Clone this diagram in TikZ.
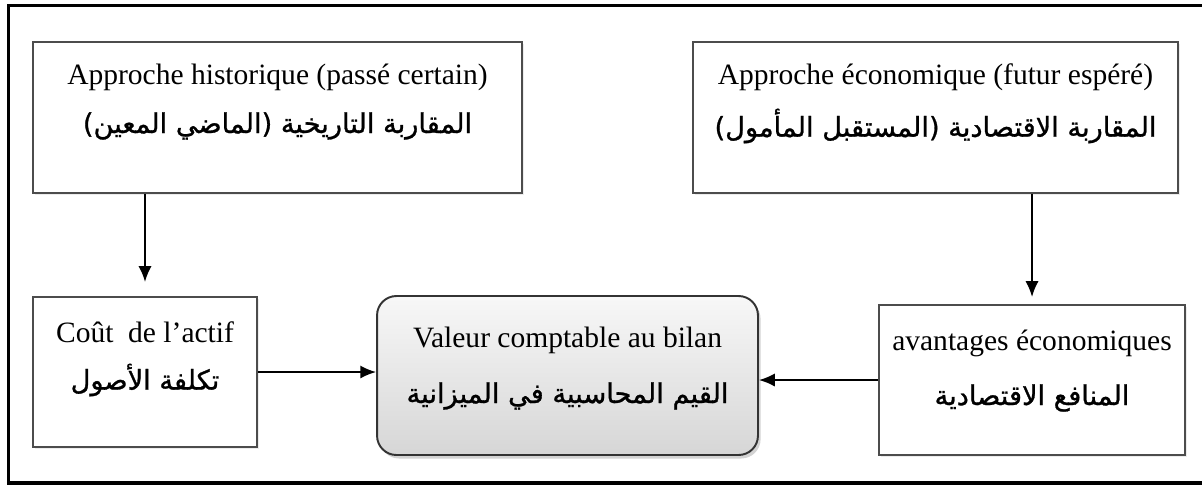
\documentclass[tikz,border=0pt]{standalone}
\usepackage{fontspec}
\setmainfont{Liberation Serif}
\newfontfamily\arabicfont[Script=Arabic,FakeBold=1]{DejaVu Sans}
\TeXXeTstate=1
\usetikzlibrary{arrows.meta,shadows}

\begin{document}
\begin{tikzpicture}[x=0.02cm,y=-0.02cm]

    % let's define some key values (in pixels of the figure)
    \def\xhist{277.5}
    \def\xecon{935.5}
    \def\xcout{145}
    \def\xvaleur{567.5}
    \def\xavant{1032}
    \def\ytop{117.5}
    \def\ytopfr{77.5}
    \def\ytopar{126}

    % Styles
    \tikzstyle{frame}=[draw=black, line width=1.8pt]
    \tikzstyle{box}=[draw=black!70, line width=1.1pt, fill=white,
        drop shadow={opacity=0.15, shadow xshift=1pt, shadow yshift=-1pt}]
    \tikzstyle{valbox}=[draw=black!80, line width=1.1pt, rounded corners=11pt,
        top color=gray!6, bottom color=gray!32,
        drop shadow={opacity=0.35, shadow xshift=1.5pt, shadow yshift=-2pt}]
    \tikzstyle{frtext}=[font=\fontsize{16.8}{20}\selectfont, inner sep=0pt]
    \tikzstyle{artext}=[font=\arabicfont\fontsize{15.5}{18}\selectfont, inner sep=0pt]
    \tikzstyle{arrow}=[-{Latex[length=9pt,width=7.5pt]}, line width=1.1pt]

    \useasboundingbox (0,0) rectangle (1202,485);

    % outer frame
    \draw[frame] (8.5,5.5) rectangle (1215,483);

    % historical approach
    \node[box, minimum width=9.78cm, minimum height=3.02cm] (hist) at (\xhist,\ytop) {};
    \node[frtext] (histfr) at (\xhist,\ytopfr) {Approche historique (passé certain)};
    \node[artext] (histar) at (\xhist,\ytopar)
        {\beginR المقاربة التاريخية \mbox{(}الماضي المعين\mbox{)}\endR};

    % economic approach
    \node[box, minimum width=9.70cm, minimum height=3.02cm] (econ) at (\xecon,\ytop) {};
    \node[frtext] (econfr) at (\xecon,\ytopfr) {Approche économique (futur espéré)};
    \node[artext] (econar) at (\xecon,\ytopar)
        {\beginR المقاربة الاقتصادية \mbox{(}المستقبل المأمول\mbox{)}\endR};

    % cost of the asset
    \node[box, minimum width=4.48cm, minimum height=3.00cm] (cout) at (\xcout,372) {};
    \node[frtext] (coutfr) at (\xcout,332) {Coût \ de l'actif};
    \node[artext] (coutar) at (\xcout,380) {\beginR تكلفة الأصول\endR};

    % book value
    \node[valbox, minimum width=7.62cm, minimum height=3.18cm] (valeur) at (\xvaleur,375.5) {};
    \node[frtext] (valeurfr) at (\xvaleur,340) {Valeur comptable au bilan};
    \node[artext] (valeurar) at (\xvaleur,396) {\beginR القيم المحاسبية في الميزانية\endR};

    % economic benefits
    \node[box, minimum width=6.12cm, minimum height=3.00cm] (avant) at (\xavant,380) {};
    \node[frtext] (avantfr) at (\xavant,343) {avantages économiques};
    \node[artext] (avantar) at (\xavant,398) {\beginR المنافع الاقتصادية\endR};

    % arrows down
    \draw[arrow, shorten >=8pt] (hist.south -| cout.north) -- (cout.north);
    \draw[arrow, shorten >=4pt] (econ.south -| avant.north) -- (avant.north);

    % arrows to the book value
    \draw[arrow] (cout.east) -- (cout.east -| valeur.west);
    \draw[arrow] (avant.west) -- (avant.west -| valeur.east);

\end{tikzpicture}
\end{document}
